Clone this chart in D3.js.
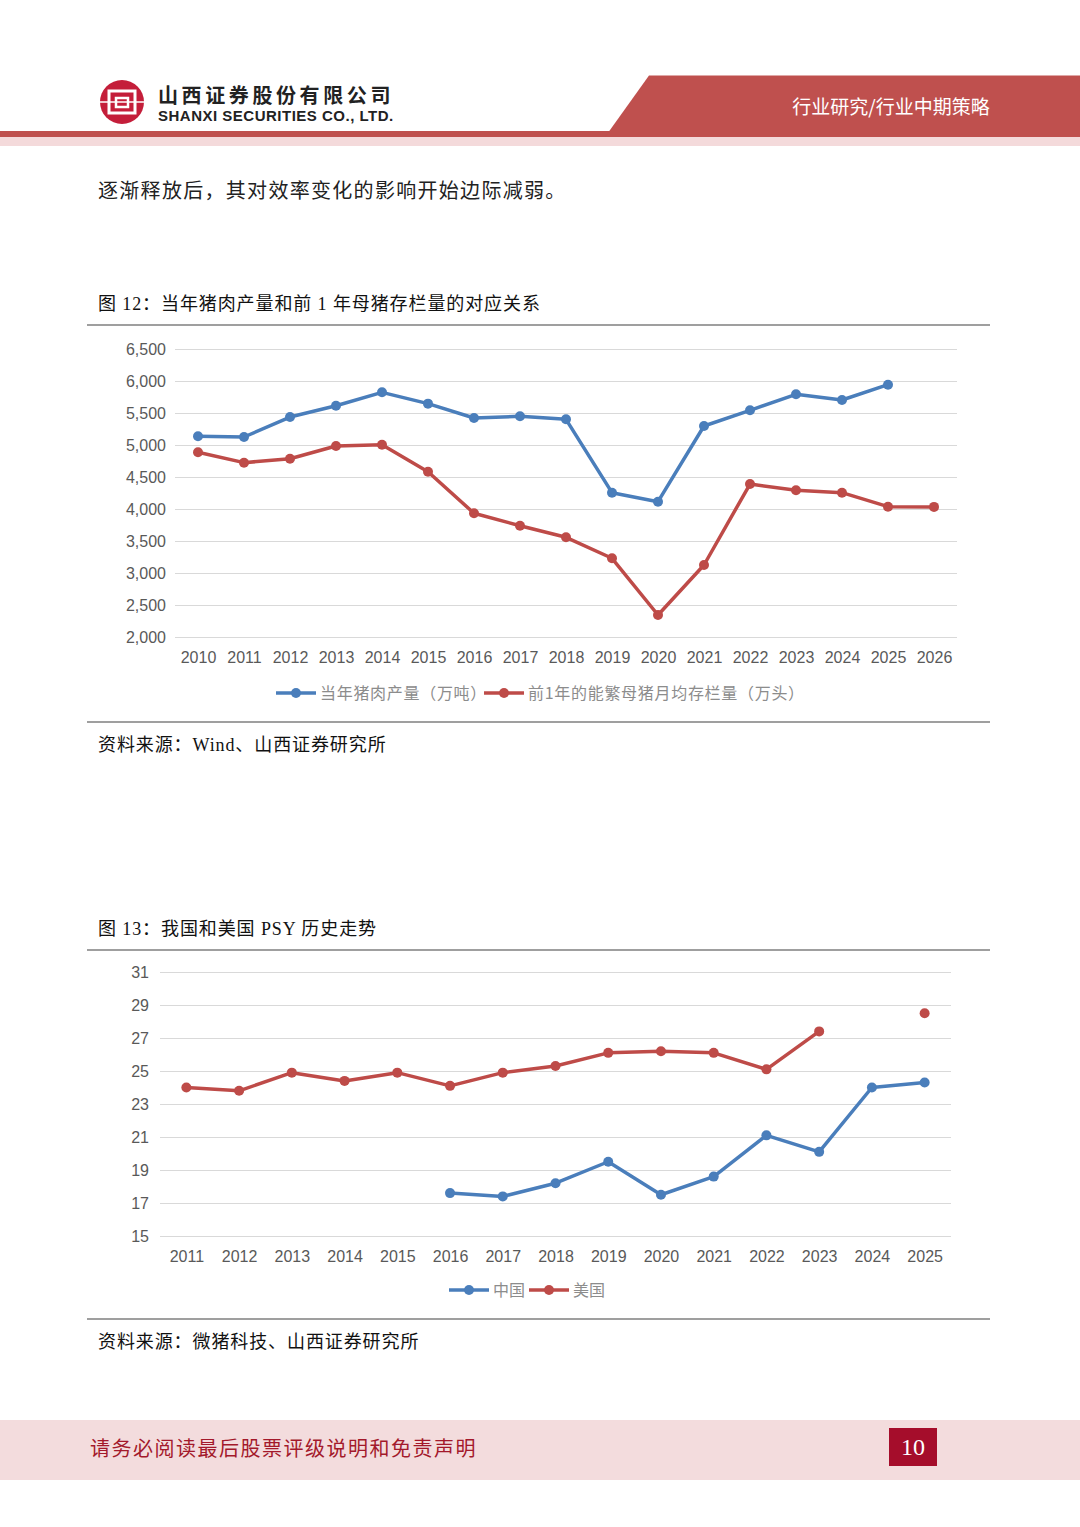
<!DOCTYPE html>
<html>
<head>
<meta charset="utf-8">
<script src="https://cdn.jsdelivr.net/npm/d3@7"></script>
<style>
    html, body { margin: 0; padding: 0; background: #fff; }
    svg { display: block; }
</style>
</head>
<body>
<div class="page"></div>
<script>
// ------------------------------------------------------
const pageWidth = 1080;
const pageHeight = 1527;
// ------------------------------------------------------
// chart 12
const years1 = [ '2010', '2011', '2012', '2013', '2014', '2015', '2016', '2017', '2018',
    '2019', '2020', '2021', '2022', '2023', '2024', '2025', '2026' ];
const porkOutput = [ 5136, 5125, 5437, 5614, 5823, 5646, 5422, 5448, 5401,
    4255, 4114, 5297, 5542, 5792, 5703, 5942, null ];
const sowStock = [ 4886, 4724, 4786, 4984, 5005, 4583, 3933, 3739, 3558,
    3230, 2344, 3125, 4390, 4292, 4255, 4036, 4033 ];
const yTicks1 = [ 2000, 2500, 3000, 3500, 4000, 4500, 5000, 5500, 6000, 6500 ];
const legend1 = [ '当年猪肉产量（万吨）', '前1年的能繁母猪月均存栏量（万头）' ];
// ------------------------------------------------------
// chart 13
const years2 = [ '2011', '2012', '2013', '2014', '2015', '2016', '2017', '2018',
    '2019', '2020', '2021', '2022', '2023', '2024', '2025' ];
const psyChina = [ null, null, null, null, null, 17.6, 17.4, 18.2,
    19.5, 17.5, 18.6, 21.1, 20.1, 24.0, 24.3 ];
const psyUSA = [ 24.0, 23.8, 24.9, 24.4, 24.9, 24.1, 24.9, 25.3,
    26.1, 26.2, 26.1, 25.1, 27.4, null, 28.5 ];
const yTicks2 = [ 15, 17, 19, 21, 23, 25, 27, 29, 31 ];
const legend2 = [ '中国', '美国' ];
// ------------------------------------------------------
const blue = '#4a7ebb';
const red = '#be4b48';
const brand = '#bf504e';
const serif = '"Liberation Serif", "Noto Sans CJK SC", serif';
const sans = '"Liberation Sans", Arial, sans-serif';
const cjk = '"Noto Sans CJK SC", sans-serif';
// ------------------------------------------------------
window.addEventListener( 'load', function () {
    // --------------------------------------------------
    let svg = d3.select( '.page' )
        .append( 'svg' )
        .attr( 'width', pageWidth )
        .attr( 'height', pageHeight );
    // --------------------------------------------------
    // header
    let header = svg.append( 'g' ).classed( 'header', true );
    header.append( 'rect' )
        .attr( 'x', 0 ).attr( 'y', 137 )
        .attr( 'width', pageWidth ).attr( 'height', 9 )
        .attr( 'fill', '#f4dadb' );
    header.append( 'rect' )
        .attr( 'x', 0 ).attr( 'y', 131 )
        .attr( 'width', 620 ).attr( 'height', 6 )
        .attr( 'fill', brand );
    header.append( 'path' )
        .attr( 'd', 'M649,75.5 L1080,75.5 L1080,137 L605,137 Z' )
        .attr( 'fill', brand );
    header.append( 'text' )
        .attr( 'x', 891 ).attr( 'y', 114 )
        .attr( 'text-anchor', 'middle' )
        .attr( 'font-family', cjk )
        .attr( 'font-size', '19px' )
        .attr( 'fill', '#fff' )
        .text( '行业研究/行业中期策略' );
    // logo
    let logo = header.append( 'g' ).attr( 'transform', 'translate(122,102)' );
    logo.append( 'circle' ).attr( 'r', 22 ).attr( 'fill', '#c41e3a' );
    logo.append( 'rect' )
        .attr( 'x', -13 ).attr( 'y', -11 ).attr( 'width', 26 ).attr( 'height', 22 )
        .attr( 'fill', 'none' ).attr( 'stroke', '#fff' ).attr( 'stroke-width', 3 );
    logo.append( 'rect' )
        .attr( 'x', -6 ).attr( 'y', -4 ).attr( 'width', 12 ).attr( 'height', 9 )
        .attr( 'fill', 'none' ).attr( 'stroke', '#fff' ).attr( 'stroke-width', 2.5 );
    logo.append( 'line' )
        .attr( 'x1', -22 ).attr( 'x2', 22 ).attr( 'y1', 0 ).attr( 'y2', 0 )
        .attr( 'stroke', '#fff' ).attr( 'stroke-width', 1.5 );
    header.append( 'text' )
        .attr( 'x', 158 ).attr( 'y', 103 )
        .attr( 'font-family', cjk )
        .attr( 'font-weight', 'bold' )
        .attr( 'font-size', '20px' )
        .attr( 'letter-spacing', '3.6px' )
        .attr( 'fill', '#222' )
        .text( '山西证券股份有限公司' );
    header.append( 'text' )
        .attr( 'x', 158 ).attr( 'y', 121 )
        .attr( 'font-family', sans )
        .attr( 'font-weight', 'bold' )
        .attr( 'font-size', '15px' )
        .attr( 'letter-spacing', '0.5px' )
        .attr( 'fill', '#222' )
        .text( 'SHANXI SECURITIES CO., LTD.' );
    // --------------------------------------------------
    // body text
    svg.append( 'text' )
        .attr( 'x', 98 ).attr( 'y', 198 )
        .attr( 'font-family', serif )
        .attr( 'font-size', '20px' )
        .attr( 'letter-spacing', '1.3px' )
        .attr( 'fill', '#222' )
        .text( '逐渐释放后，其对效率变化的影响开始边际减弱。' );
    // --------------------------------------------------
    function figureFrame ( title, titleY, topLine, bottomLine, source ) {
        svg.append( 'text' )
            .attr( 'x', 98 ).attr( 'y', titleY )
            .attr( 'font-family', serif )
            .attr( 'font-size', '18px' )
            .attr( 'letter-spacing', '0.9px' )
            .attr( 'fill', '#111' )
            .text( title );
        svg.append( 'line' )
            .attr( 'x1', 87 ).attr( 'x2', 990 )
            .attr( 'y1', topLine ).attr( 'y2', topLine )
            .attr( 'stroke', '#7f7f7f' ).attr( 'stroke-width', 1.5 );
        svg.append( 'line' )
            .attr( 'x1', 87 ).attr( 'x2', 990 )
            .attr( 'y1', bottomLine ).attr( 'y2', bottomLine )
            .attr( 'stroke', '#7f7f7f' ).attr( 'stroke-width', 1.5 );
        svg.append( 'text' )
            .attr( 'x', 98 ).attr( 'y', bottomLine + 29 )
            .attr( 'font-family', serif )
            .attr( 'font-size', '18px' )
            .attr( 'letter-spacing', '0.9px' )
            .attr( 'fill', '#111' )
            .text( source );
    }
    // --------------------------------------------------
    function lineChart ( opts ) {
        let g = svg.append( 'g' ).classed( 'plot-group', true );
        let x = d3.scalePoint()
            .domain( opts.years )
            .range( [ opts.left, opts.right ] )
            .padding( 0.5 );
        let y = d3.scaleLinear()
            .domain( opts.yDomain )
            .range( [ opts.bottom, opts.top ] );
        // gridlines + y labels
        let yAxis = d3.axisLeft( y )
            .tickValues( opts.yTicks )
            .tickSize( -( opts.right - opts.left ) )
            .tickPadding( opts.tickPad )
            .tickFormat( opts.yFormat );
        let ya = g.append( 'g' )
            .attr( 'transform', 'translate(' + opts.left + ',0)' )
            .call( yAxis );
        ya.select( '.domain' ).remove();
        ya.selectAll( 'line' ).attr( 'stroke', '#d9d9d9' );
        ya.selectAll( 'text' )
            .attr( 'font-family', sans )
            .attr( 'font-size', '16px' )
            .attr( 'fill', '#595959' );
        // x labels
        let xAxis = d3.axisBottom( x ).tickSize( 0 ).tickPadding( 15 );
        let xa = g.append( 'g' )
            .attr( 'transform', 'translate(0,' + opts.bottom + ')' )
            .call( xAxis );
        xa.select( '.domain' ).remove();
        xa.selectAll( 'text' )
            .attr( 'font-family', sans )
            .attr( 'font-size', '16px' )
            .attr( 'fill', '#595959' );
        // series
        opts.series.forEach( function ( s ) {
            let pts = opts.years.map( function ( yr, i ) {
                return { year: yr, value: s.values[i] };
            });
            let line = d3.line()
                .defined( function ( d ) { return d.value !== null; } )
                .x( function ( d ) { return x( d.year ); } )
                .y( function ( d ) { return y( d.value ); } );
            g.append( 'path' )
                .attr( 'd', line( pts ) )
                .attr( 'fill', 'none' )
                .attr( 'stroke', s.color )
                .attr( 'stroke-width', 3.5 )
                .attr( 'stroke-linejoin', 'round' );
            g.selectAll( null )
                .data( pts.filter( function ( d ) { return d.value !== null; } ) )
                .enter()
                .append( 'circle' )
                .attr( 'cx', function ( d ) { return x( d.year ); } )
                .attr( 'cy', function ( d ) { return y( d.value ); } )
                .attr( 'r', 5 )
                .attr( 'fill', s.color );
        });
        // legend
        let lx = opts.legendX;
        opts.series.forEach( function ( s, i ) {
            let lg = g.append( 'g' ).attr( 'transform', 'translate(' + lx + ',' + opts.legendY + ')' );
            lg.append( 'line' )
                .attr( 'x1', 0 ).attr( 'x2', 40 )
                .attr( 'stroke', s.color ).attr( 'stroke-width', 3.5 );
            lg.append( 'circle' ).attr( 'cx', 20 ).attr( 'r', 5 ).attr( 'fill', s.color );
            let t = lg.append( 'text' )
                .attr( 'x', 44 ).attr( 'dy', '0.35em' )
                .attr( 'font-family', cjk )
                .attr( 'font-size', '16px' )
                .attr( 'letter-spacing', opts.legendSpacing )
                .attr( 'fill', '#8c8c8c' )
                .text( s.label );
            lx += 44 + t.node().getComputedTextLength() + opts.legendGap;
        });
    }
    // --------------------------------------------------
    figureFrame( '图 12：当年猪肉产量和前 1 年母猪存栏量的对应关系', 310, 325, 722,
        '资料来源：Wind、山西证券研究所' );
    lineChart({
        years: years1,
        left: 175, right: 957, top: 349, bottom: 637,
        yDomain: [ 2000, 6500 ],
        yTicks: yTicks1,
        yFormat: d3.format( ',' ),
        tickPad: 9,
        legendX: 276, legendY: 693, legendGap: -3, legendSpacing: '0.7px',
        series: [
            { label: legend1[0], values: porkOutput, color: blue },
            { label: legend1[1], values: sowStock, color: red }
        ]
    });
    // --------------------------------------------------
    figureFrame( '图 13：我国和美国 PSY 历史走势', 935, 950, 1319,
        '资料来源：微猪科技、山西证券研究所' );
    lineChart({
        years: years2,
        left: 160, right: 951, top: 972, bottom: 1236,
        yDomain: [ 15, 31 ],
        yTicks: yTicks2,
        yFormat: d3.format( 'd' ),
        tickPad: 11,
        legendX: 449, legendY: 1290, legendGap: 4, legendSpacing: '0px',
        series: [
            { label: legend2[0], values: psyChina, color: blue },
            { label: legend2[1], values: psyUSA, color: red }
        ]
    });
    // --------------------------------------------------
    // footer
    svg.append( 'rect' )
        .attr( 'x', 0 ).attr( 'y', 1420 )
        .attr( 'width', pageWidth ).attr( 'height', 60 )
        .attr( 'fill', '#f3dcdd' );
    svg.append( 'text' )
        .attr( 'x', 90 ).attr( 'y', 1456 )
        .attr( 'font-family', serif )
        .attr( 'font-size', '20px' )
        .attr( 'letter-spacing', '1.5px' )
        .attr( 'fill', '#a3192b' )
        .text( '请务必阅读最后股票评级说明和免责声明' );
    svg.append( 'rect' )
        .attr( 'x', 889 ).attr( 'y', 1428 )
        .attr( 'width', 48 ).attr( 'height', 38 )
        .attr( 'fill', '#a50d2b' );
    svg.append( 'text' )
        .attr( 'x', 913 ).attr( 'y', 1455 )
        .attr( 'text-anchor', 'middle' )
        .attr( 'font-family', serif )
        .attr( 'font-size', '24px' )
        .attr( 'fill', '#fff' )
        .text( '10' );
}, false );
</script>
</body>
</html>
